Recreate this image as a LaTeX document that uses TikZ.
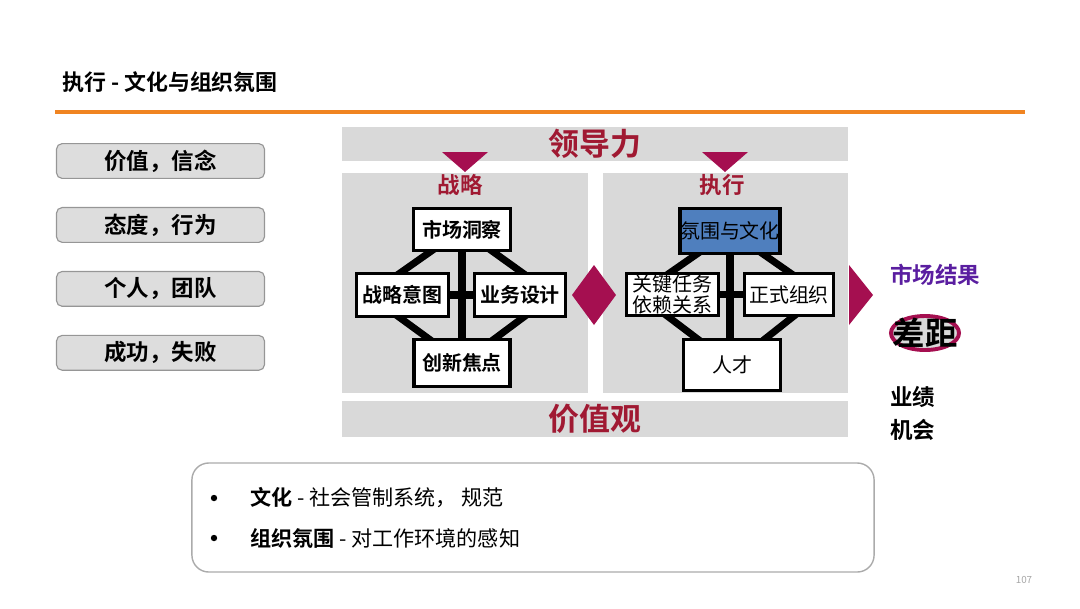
\documentclass[tikz,border=0pt]{standalone}
\usepackage{fontspec}
\setmainfont{Noto Sans CJK SC}[BoldFont={* Bold}]
\usepackage{tikz}
\usetikzlibrary{positioning,calc,shapes.geometric}

\pgfdeclarelayer{back}
\pgfdeclarelayer{mid}
\pgfsetlayers{back,mid,main}

\definecolor{crim}{RGB}{165,15,80}
\definecolor{darkred}{RGB}{160,25,50}
\definecolor{panelgray}{RGB}{217,217,217}
\definecolor{sidegray}{RGB}{221,221,221}
\definecolor{edgegray}{RGB}{150,150,150}
\definecolor{cultblue}{RGB}{79,127,190}
\definecolor{rule}{RGB}{240,132,33}
\definecolor{mktpurple}{RGB}{90,30,160}

\tikzset{
  sidebox/.style={draw=edgegray, line width=0.8pt, fill=sidegray, rounded corners=4pt,
    minimum width=5.2cm, minimum height=0.87cm, inner sep=0pt,
    font=\bfseries\fontsize{16pt}{18pt}\selectfont},
  band/.style={fill=panelgray, minimum width=12.65cm, inner sep=0pt, text=darkred,
    font=\bfseries\fontsize{22pt}{24pt}\selectfont},
  panel/.style={fill=panelgray, minimum height=5.5cm, inner sep=0pt},
  keybox/.style={draw=black, line width=2.5pt, fill=white, inner sep=0pt,
    font=\bfseries\fontsize{14.2pt}{14.6pt}\selectfont},
  runbox/.style={keybox, font=\fontsize{14.2pt}{14.6pt}\selectfont, align=center},
  bar/.style={line width=5pt, line join=bevel},
  paneltitle/.style={text=darkred, font=\bfseries\fontsize{16pt}{18pt}\selectfont},
  sidetext/.style={anchor=west, inner sep=0pt, font=\bfseries\fontsize{16pt}{18pt}\selectfont},
  bullettext/.style={anchor=west, inner sep=0pt, font=\fontsize{15pt}{17pt}\selectfont},
  dot/.style={circle, fill=black, inner sep=0pt, minimum size=0.16cm},
}

\begin{document}
\begin{tikzpicture}[x=0.025cm,y=-0.025cm]
    \useasboundingbox (0,0) rectangle (1080,608);

    % Title
    \node[anchor=west, inner sep=0pt, font=\bfseries\fontsize{15.6pt}{18pt}\selectfont] (title) at (62,82) {执行 - 文化与组织氛围};
    \draw[rule, line width=2.8pt] (55,112) -- (1025,112);

    % Left column
    \node[sidebox] (jz) at (160.5,161) {价值，信念};
    \node[sidebox, below=0.7cm of jz] (td) {态度，行为};
    \node[sidebox, below=0.7cm of td] (gr) {个人，团队};
    \node[sidebox, below=0.7cm of gr] (cg) {成功，失败};

    % Bands and panels
    \node[band, minimum height=0.85cm] (ldl) at (595,144) {领导力};
    \node[band, minimum height=0.9cm] (jzg) at (595,419) {价值观};
    \begin{pgfonlayer}{back}
        \node[panel, minimum width=6.15cm] (lp) at (465,283) {};
        \node[panel, minimum width=6.125cm] (rp) at (725.5,283) {};
    \end{pgfonlayer}
    \fill[crim] (442,152) -- (488,152) -- (465,172) -- cycle;
    \fill[crim] (702,152) -- (748,152) -- (725,172) -- cycle;
    \node[paneltitle] (zl) at (460,185) {战略};
    \node[paneltitle] (zx) at (722,185) {执行};

    % Strategy
    \node[keybox, minimum width=2.42cm, minimum height=1.05cm] (sc) at (462,229.5) {市场洞察};
    \node[keybox, minimum width=2.3cm, minimum height=1.08cm] (zt) at (402.5,295) {战略意图};
    \node[keybox, minimum width=2.28cm, minimum height=1.08cm] (yw) at (520,295) {业务设计};
    \node[keybox, minimum width=2.4cm, minimum height=1.18cm] (cx) at (462,363) {创新焦点};

    % Execution
    \node[runbox, fill=cultblue, minimum width=2.45cm, minimum height=1.13cm] (fw) at (730,231) {氛围与文化};
    \node[runbox, minimum width=2.3cm, minimum height=1.05cm] (gj) at (672.5,294.5) {关键任务\\依赖关系};
    \node[runbox, minimum width=2.22cm, minimum height=1.05cm] (zs) at (789,294.5) {正式组织};
    \node[runbox, minimum width=2.42cm, minimum height=1.28cm] (rc) at (732,365) {人才};

    \begin{pgfonlayer}{mid}
        \draw[bar] ($(zt.west)+(14,0)$) -- (sc.center) -- ($(yw.east)+(-14,0)$) -- (cx.center) -- cycle;
        \draw[bar] (sc.south) -- (cx.north);
        \draw[bar] (zt.east) -- (yw.west);
        \draw[bar] ($(gj.west)+(14,0)$) -- (fw.center) -- ($(zs.east)+(-14,0)$) -- (rc.center) -- cycle;
        \draw[bar] (fw.south) -- (fw.south |- rc.north);
        \draw[bar] (gj.east) -- (zs.west);
    \end{pgfonlayer}

    % Link and outcome
    \fill[crim] (594,265) -- (616,295) -- (594,325) -- (572,295) -- cycle;
    \fill[crim] (849,265) -- (873,295) -- (849,325) -- cycle;
    \node[sidetext, text=mktpurple] (sj) at (890,275) {市场结果};
    \node[ellipse, draw=crim, line width=2.8pt, fill=panelgray, minimum width=1.7cm, minimum height=0.85cm, inner sep=0pt] (ring) at (925,333) {};
    \node[font=\bfseries\fontsize{23pt}{25pt}\selectfont] (cj) at (ring) {差距};
    \node[sidetext] (yj) at (890,397) {业绩};
    \node[sidetext] (jh) at (890,430) {机会};

    % Notes
    \node[draw=edgegray!80, line width=1pt, rounded corners=12pt, fill=white, minimum width=17.05cm, minimum height=2.725cm] (note) at (533,517.5) {};
    \node[dot] (b1) at (214,498) {};
    \node[bullettext] (t1) at (250,498) {\textbf{文化} - 社会管制系统， 规范};
    \node[dot] (b2) at (214,538) {};
    \node[bullettext] (t2) at (250,538) {\textbf{组织氛围} - 对工作环境的感知};

    \node[text=black!35, font=\fontsize{7pt}{8pt}\selectfont] (pg) at (1024,580) {107};
\end{tikzpicture}
\end{document}
